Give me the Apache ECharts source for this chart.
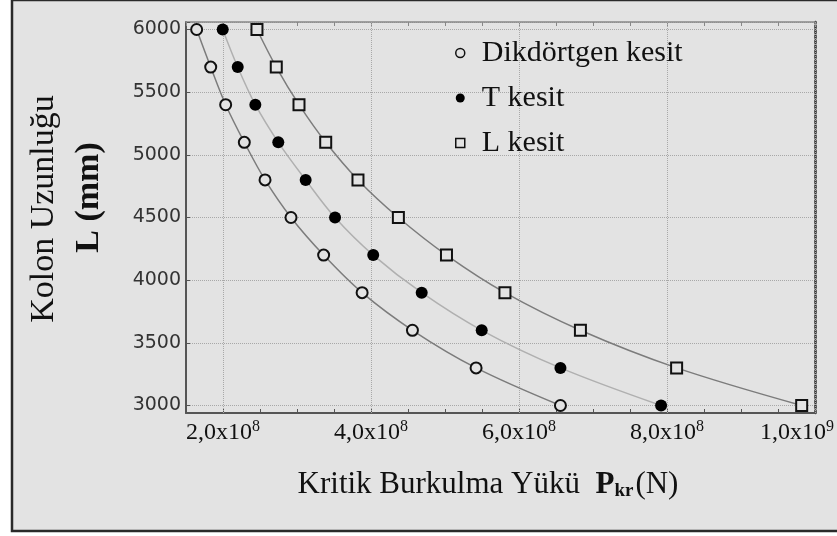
<!DOCTYPE html>
<html>
<head>
<meta charset="utf-8">
<script src="https://cdn.jsdelivr.net/npm/echarts@6/dist/echarts.min.js"></script>
<style>
html, body { margin: 0; padding: 0; background: #fff; }
#chart { width: 837px; height: 536px; }
</style>
</head>
<body>
<div id="chart"></div>
<script>
// kolon boyu (mm)
const lengths = [6000, 5700, 5400, 5100, 4800, 4500, 4200, 3900, 3600, 3300, 3000];
// kritik burkulma yükü (N)
const dikdortgen = [1.644e8, 1.834e8, 2.036e8, 2.288e8, 2.568e8, 2.919e8, 3.36e8, 3.88e8, 4.56e8, 5.42e8, 6.56e8];
const tKesit = [1.996e8, 2.199e8, 2.437e8, 2.747e8, 3.117e8, 3.514e8, 4.03e8, 4.685e8, 5.496e8, 6.56e8, 7.92e8];
const lKesit = [2.459e8, 2.72e8, 3.027e8, 3.388e8, 3.824e8, 4.37e8, 5.02e8, 5.81e8, 6.83e8, 8.13e8, 9.82e8];

const seriesNames = ['Dikdörtgen kesit', 'T kesit', 'L kesit'];
const xTicks = [2e8, 4e8, 6e8, 8e8, 1e9];
const yTicks = [3000, 3500, 4000, 4500, 5000, 5500, 6000];

const bg = '#e3e3e3';
const serif = '"Liberation Serif", "Times New Roman", serif';
const gridColor = '#a8a8a8';

const pairs = (xs) => xs.map((x, i) => [x, lengths[i]]);

function xLabel(v) {
    if (!xTicks.some(t => Math.abs(t - v) < 1)) return '';
    const e = Math.floor(Math.log10(v) + 1e-9);
    const m = (v / Math.pow(10, e)).toFixed(1).replace('.', ',');
    // son etiket sola kaydırılıyor
    const pad = v >= xTicks[xTicks.length - 1] ? '{p|}' : '';
    return '{m|' + m + 'x10}{e|' + e + '}' + pad;
}

const chart = echarts.init(document.getElementById('chart'));

const option = {
    backgroundColor: '#fff',
    animation: false,
    graphic: [{
        type: 'rect',
        z: -10,
        silent: true,
        shape: { x: 12, y: 0, width: 840, height: 531 },
        style: { fill: bg, stroke: '#2a2a2a', lineWidth: 2.5 }
    }],
    grid: { left: 186, right: 22, top: 22, bottom: 123, outerBoundsMode: 'none', containLabel: false },
    legend: {
        orient: 'vertical',
        left: 450,
        top: 31,
        itemWidth: 9,
        itemHeight: 9,
        itemGap: 11,
        formatter: '{g|}{name}',
        textStyle: {
            fontFamily: serif,
            fontSize: 30,
            lineHeight: 34,
            color: '#111',
            rich: { g: { width: 12 } }
        },
        data: [
            { name: seriesNames[0], icon: 'circle', itemStyle: { color: bg, borderColor: '#111', borderWidth: 1.5 } },
            { name: seriesNames[1], icon: 'circle', itemStyle: { color: '#000', borderWidth: 0 } },
            { name: seriesNames[2], icon: 'rect', itemStyle: { color: bg, borderColor: '#111', borderWidth: 1.5 } }
        ]
    },
    xAxis: [
        {
            type: 'value',
            position: 'bottom',
            min: 1.5e8,
            max: 1e9,
            interval: 0.5e8,
            name: '{a|Kritik Burkulma Yükü  }{b|P}{c|kr}{a|(N)}',
            nameLocation: 'middle',
            nameGap: 55,
            nameTextStyle: {
                padding: [0, 25, 0, 0],
                rich: {
                    a: { fontFamily: serif, fontSize: 31, color: '#111' },
                    b: { fontFamily: serif, fontSize: 31, fontWeight: 'bold', color: '#111' },
                    c: { fontFamily: serif, fontSize: 19, fontWeight: 'bold', color: '#111', padding: [14, 2, 0, 0] }
                }
            },
            axisLine: { lineStyle: { color: '#555', width: 2 } },
            axisTick: { inside: true, length: 4, lineStyle: { color: '#555' } },
            axisLabel: {
                formatter: xLabel,
                margin: 6,
                rich: {
                    m: { fontFamily: serif, fontSize: 24, color: '#111' },
                    e: { fontFamily: serif, fontSize: 16, color: '#111', padding: [0, 0, 12, 0] },
                    p: { width: 36 }
                }
            },
            splitLine: { show: false }
        },
        {
            type: 'value',
            position: 'top',
            min: 1.5e8,
            max: 1e9,
            interval: 0.5e8,
            axisLine: { lineStyle: { color: '#888', width: 1.5 } },
            axisTick: { inside: true, length: 4, lineStyle: { color: '#888' } },
            axisLabel: { show: false },
            splitLine: { show: false }
        }
    ],
    yAxis: [
        {
            type: 'value',
            position: 'left',
            min: 2940,
            max: 6060,
            splitNumber: 6,
            name: '{a|Kolon Uzunluğu}\n{b|L (mm)}',
            nameLocation: 'middle',
            nameRotate: 90,
            nameGap: 74,
            nameTextStyle: {
                rich: {
                    a: { fontFamily: serif, fontSize: 34, lineHeight: 45, color: '#111', padding: [0, 0, 0, 17] },
                    b: { fontFamily: serif, fontSize: 34, lineHeight: 45, fontWeight: 'bold', color: '#111', padding: [0, 0, 0, 40] }
                }
            },
            axisLine: { lineStyle: { color: '#555', width: 2 } },
            axisTick: { inside: true, length: 4, lineStyle: { color: '#555' } },
            axisLabel: {
                formatter: (v) => (yTicks.includes(v) ? String(v) : ''),
                fontFamily: '"DejaVu Sans", sans-serif',
                fontSize: 19,
                color: '#333',
                margin: 5
            },
            splitLine: { show: true, lineStyle: { color: gridColor, type: 'dotted', width: 1 } }
        },
        {
            type: 'value',
            position: 'right',
            min: 2940,
            max: 6060,
            axisLine: { lineStyle: { color: '#333', width: 2.5, type: 'dotted' } },
            axisTick: { show: false },
            axisLabel: { show: false },
            splitLine: { show: false }
        }
    ],
    series: [
        {
            name: seriesNames[0],
            type: 'line',
            smooth: 0.35,
            data: pairs(dikdortgen),
            symbol: 'circle',
            symbolSize: 11,
            lineStyle: { color: '#7c7c7c', width: 1.5 },
            itemStyle: { color: bg, borderColor: '#111', borderWidth: 2 },
            // dikey ızgara çizgileri
            markLine: {
                silent: true,
                z: 1,
                symbol: 'none',
                label: { show: false },
                lineStyle: { color: gridColor, type: 'dotted', width: 1 },
                data: xTicks.map(v => ({ xAxis: v }))
            }
        },
        {
            name: seriesNames[1],
            type: 'line',
            smooth: 0.35,
            data: pairs(tKesit),
            symbol: 'circle',
            symbolSize: 12,
            lineStyle: { color: '#b0b0b0', width: 1.5 },
            itemStyle: { color: '#000', borderWidth: 0 }
        },
        {
            name: seriesNames[2],
            type: 'line',
            smooth: 0.35,
            data: pairs(lKesit),
            symbol: 'rect',
            symbolSize: 11,
            lineStyle: { color: '#7c7c7c', width: 1.5 },
            itemStyle: { color: bg, borderColor: '#111', borderWidth: 2 }
        }
    ]
};

chart.setOption(option);
</script>
</body>
</html>
